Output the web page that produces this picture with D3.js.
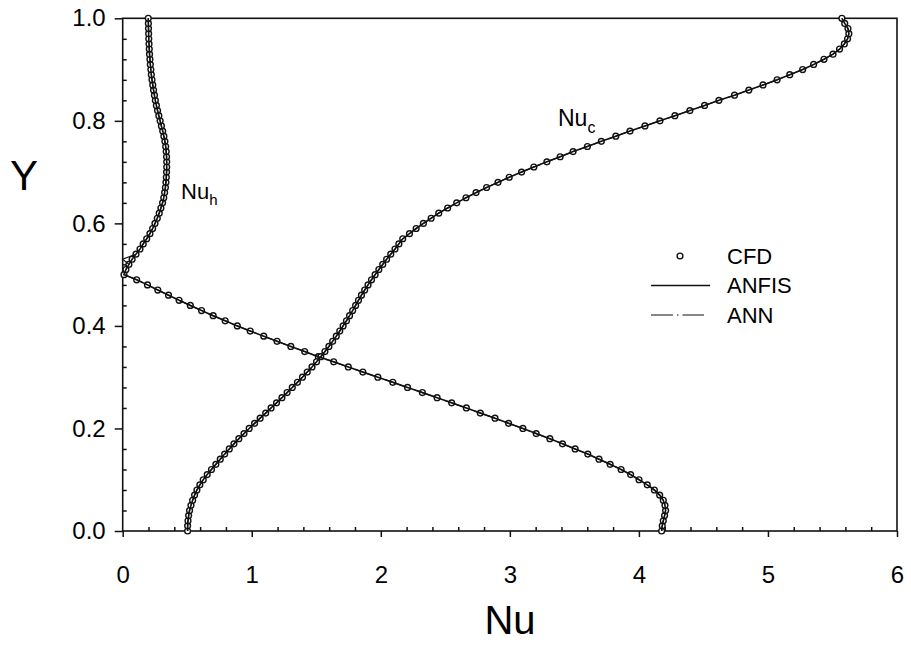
<!DOCTYPE html>
<html>
<head>
<meta charset="utf-8">
<script src="https://cdn.jsdelivr.net/npm/d3@7"></script>
<style>
  html, body { margin: 0; padding: 0; background: #fff; }
  svg { display: block; font-family: "Liberation Sans", Arial, sans-serif; }
</style>
</head>
<body>
<svg id="chart" width="911" height="646"></svg>
<script>
// Vertical position along the wall (Y), shared by both Nusselt profiles
const yLevels = [
  0.00, 0.01, 0.02, 0.03, 0.04, 0.05, 0.06, 0.07, 0.08, 0.09,
  0.10, 0.11, 0.12, 0.13, 0.14, 0.15, 0.16, 0.17, 0.18, 0.19,
  0.20, 0.21, 0.22, 0.23, 0.24, 0.25, 0.26, 0.27, 0.28, 0.29,
  0.30, 0.31, 0.32, 0.33, 0.34, 0.35, 0.36, 0.37, 0.38, 0.39,
  0.40, 0.41, 0.42, 0.43, 0.44, 0.45, 0.46, 0.47, 0.48, 0.49,
  0.50, 0.51, 0.52, 0.53, 0.54, 0.55, 0.56, 0.57, 0.58, 0.59,
  0.60, 0.61, 0.62, 0.63, 0.64, 0.65, 0.66, 0.67, 0.68, 0.69,
  0.70, 0.71, 0.72, 0.73, 0.74, 0.75, 0.76, 0.77, 0.78, 0.79,
  0.80, 0.81, 0.82, 0.83, 0.84, 0.85, 0.86, 0.87, 0.88, 0.89,
  0.90, 0.91, 0.92, 0.93, 0.94, 0.95, 0.96, 0.97, 0.98, 0.99,
  1.00
];

// CFD local Nusselt number, Nu_h profile
const cfdNuH = [
  4.176, 4.181, 4.189, 4.199, 4.207, 4.202, 4.189, 4.161, 4.120, 4.065,
  4.001, 3.936, 3.862, 3.777, 3.691, 3.604, 3.506, 3.408, 3.310, 3.204,
  3.101, 2.990, 2.885, 2.771, 2.663, 2.549, 2.436, 2.322, 2.207, 2.093,
  1.977, 1.861, 1.748, 1.635, 1.516, 1.410, 1.303, 1.196, 1.093, 0.988,
  0.888, 0.794, 0.701, 0.611, 0.524, 0.437, 0.355, 0.272, 0.192, 0.108,
  0.010, 0.025, 0.048, 0.073, 0.103, 0.134, 0.159, 0.186, 0.211, 0.232,
  0.250, 0.268, 0.283, 0.296, 0.309, 0.318, 0.325, 0.331, 0.335, 0.338,
  0.340, 0.341, 0.341, 0.340, 0.337, 0.333, 0.327, 0.319, 0.310, 0.300,
  0.290, 0.280, 0.270, 0.261, 0.253, 0.246, 0.239, 0.233, 0.227, 0.222,
  0.218, 0.214, 0.211, 0.208, 0.206, 0.204, 0.202, 0.201, 0.200, 0.199,
  0.198
];

// CFD local Nusselt number, Nu_c profile
const cfdNuC = [
  0.503, 0.503, 0.506, 0.511, 0.518, 0.529, 0.542, 0.557, 0.575, 0.598,
  0.624, 0.655, 0.688, 0.722, 0.756, 0.790, 0.826, 0.862, 0.900, 0.940,
  0.980, 1.022, 1.065, 1.108, 1.150, 1.192, 1.234, 1.274, 1.314, 1.354,
  1.393, 1.430, 1.467, 1.502, 1.535, 1.567, 1.598, 1.627, 1.655, 1.682,
  1.708, 1.734, 1.758, 1.782, 1.805, 1.827, 1.850, 1.875, 1.901, 1.928,
  1.956, 1.985, 2.015, 2.045, 2.077, 2.110, 2.140, 2.170, 2.222, 2.274,
  2.330, 2.390, 2.449, 2.518, 2.588, 2.660, 2.738, 2.820, 2.908, 2.995,
  3.091, 3.186, 3.287, 3.390, 3.490, 3.601, 3.709, 3.821, 3.931, 4.047,
  4.163, 4.279, 4.395, 4.509, 4.620, 4.741, 4.852, 4.962, 5.071, 5.169,
  5.269, 5.354, 5.434, 5.504, 5.555, 5.592, 5.617, 5.627, 5.620, 5.595,
  5.573
];

// ANFIS predictions follow the CFD profiles
const anfisNuH = cfdNuH.slice();
const anfisNuC = cfdNuC.slice();
// ANN predictions: same profiles, with a dip to the wall just above the cusp of Nu_h
const annNuH = cfdNuH.slice();
annNuH[53] = 0.0;
const annNuC = cfdNuC.slice();

// Axis ticks and labels
const xTicks = [0, 1, 2, 3, 4, 5, 6];
const xMinorTicks = [0.2, 0.4, 0.6, 0.8, 1.2, 1.4, 1.6, 1.8, 2.2, 2.4, 2.6, 2.8,
                     3.2, 3.4, 3.6, 3.8, 4.2, 4.4, 4.6, 4.8, 5.2, 5.4, 5.6, 5.8];
const yTicks = [0.0, 0.2, 0.4, 0.6, 0.8, 1.0];
const yMinorTicks = [0.04, 0.08, 0.12, 0.16, 0.24, 0.28, 0.32, 0.36, 0.44, 0.48,
                     0.52, 0.56, 0.64, 0.68, 0.72, 0.76, 0.84, 0.88, 0.92, 0.96];
const xTitle = "Nu";
const yTitle = "Y";
const legendLabels = ["CFD", "ANFIS", "ANN"];
const curveLabels = [
  { base: "Nu", sub: "h" },
  { base: "Nu", sub: "c" }
];

const svg = d3.select("#chart");
const ink = "#111";

const x = d3.scaleLinear().domain([0, 6]).range([122.7, 897]);
const y = d3.scaleLinear().domain([0, 1]).range([531, 18.3]);

// ---- axes ----
const xAxis = svg.append("g")
  .attr("transform", `translate(0,${y(0)})`)
  .call(d3.axisBottom(x).tickValues(xTicks).tickSize(6).tickPadding(29)
        .tickFormat(d3.format("d")));
const xMinor = svg.append("g")
  .attr("transform", `translate(0,${y(0)})`)
  .call(d3.axisBottom(x).tickValues(xMinorTicks).tickSize(-4).tickFormat(""));
const yAxis = svg.append("g")
  .attr("transform", `translate(${x(0)},0)`)
  .call(d3.axisLeft(y).tickValues(yTicks).tickSize(8).tickPadding(9)
        .tickFormat(d3.format(".1f")));
const yMinor = svg.append("g")
  .attr("transform", `translate(${x(0)},0)`)
  .call(d3.axisLeft(y).tickValues(yMinorTicks).tickSize(-4).tickFormat(""));

[xAxis, xMinor, yAxis, yMinor].forEach(g => {
  g.select(".domain").remove();
  g.selectAll(".tick line").attr("stroke", ink).attr("stroke-width", 1.5);
  g.selectAll(".tick text")
    .attr("fill", "#000")
    .attr("font-size", 24)
    .attr("font-family", "Liberation Sans, Arial, sans-serif");
});

// plot frame
svg.append("rect")
  .attr("x", x(0)).attr("y", y(1))
  .attr("width", x(6) - x(0)).attr("height", y(0) - y(1))
  .attr("fill", "none").attr("stroke", ink).attr("stroke-width", 1.6);

// ---- series ----
svg.append("defs").append("clipPath").attr("id", "plot-clip")
  .append("rect")
  .attr("x", x(0) - 6).attr("y", y(1) - 6)
  .attr("width", x(6) - x(0) + 12).attr("height", y(0) - y(1) + 12);

const plot = svg.append("g").attr("clip-path", "url(#plot-clip)");

function rows(values) {
  return values.map((v, i) => ({ nu: v, yy: yLevels[i] }));
}

// CFD symbols
[cfdNuH, cfdNuC].forEach(series => {
  plot.append("g").selectAll("circle")
    .data(rows(series))
    .join("circle")
    .attr("cx", d => x(d.nu))
    .attr("cy", d => y(d.yy))
    .attr("r", 2.9)
    .attr("fill", "#fff")
    .attr("stroke", ink)
    .attr("stroke-width", 1.4);
});

const line = d3.line().x(d => x(d.nu)).y(d => y(d.yy));

// ANFIS solid lines
[anfisNuH, anfisNuC].forEach(series => {
  plot.append("path")
    .attr("d", line(rows(series)))
    .attr("fill", "none")
    .attr("stroke", ink)
    .attr("stroke-width", 1.6);
});

// ANN dashed lines
[annNuH, annNuC].forEach(series => {
  plot.append("path")
    .attr("d", line(rows(series)))
    .attr("fill", "none")
    .attr("stroke", ink)
    .attr("stroke-width", 1.2)
    .attr("stroke-dasharray", "22,4,1.5,4");
});

// ---- curve labels ----
const labelPos = [
  { x: 181, y: 199, size: 22, subSize: 15, subDy: 6 },
  { x: 558, y: 126, size: 23, subSize: 16, subDy: 7 }
];
curveLabels.forEach((lab, i) => {
  const p = labelPos[i];
  const t = svg.append("text")
    .attr("x", p.x).attr("y", p.y)
    .attr("font-size", p.size)
    .attr("fill", "#000");
  t.append("tspan").text(lab.base);
  t.append("tspan").attr("dy", p.subDy).attr("font-size", p.subSize).text(lab.sub);
});

// ---- legend ----
const legend = svg.append("g").attr("transform", "translate(651,256)");
const rowGap = 29.5;
legendLabels.forEach((name, i) => {
  const g = legend.append("g").attr("transform", `translate(0,${i * rowGap})`);
  if (i === 0) {
    g.append("circle").attr("cx", 29).attr("cy", 0).attr("r", 2.9)
      .attr("fill", "#fff").attr("stroke", ink).attr("stroke-width", 1.4);
  } else if (i === 1) {
    g.append("line").attr("x1", 0).attr("x2", 59).attr("y1", 0).attr("y2", 0)
      .attr("stroke", ink).attr("stroke-width", 1.6);
  } else {
    g.append("line").attr("x1", 0).attr("x2", 53).attr("y1", 0).attr("y2", 0)
      .attr("stroke", ink).attr("stroke-width", 1.2)
      .attr("stroke-dasharray", "22,4,1.5,4");
  }
  g.append("text")
    .attr("x", 76).attr("y", 0).attr("dy", "0.36em")
    .attr("font-size", 22).attr("fill", "#000")
    .text(name);
});

// ---- axis titles ----
svg.append("text")
  .attr("x", 24).attr("y", 190)
  .attr("text-anchor", "middle")
  .attr("font-size", 42).attr("fill", "#000")
  .text(yTitle);
svg.append("text")
  .attr("x", 510).attr("y", 634)
  .attr("text-anchor", "middle")
  .attr("font-size", 40).attr("fill", "#000")
  .text(xTitle);
</script>
</body>
</html>
